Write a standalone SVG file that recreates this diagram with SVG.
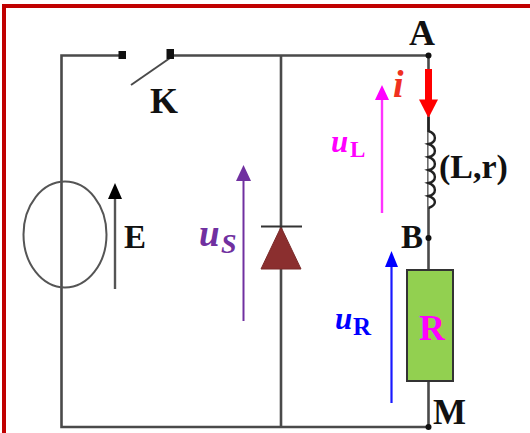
<svg xmlns="http://www.w3.org/2000/svg" width="530" height="433" viewBox="0 0 530 433">
<style>
.w{fill:none;stroke:#4a4a4a;stroke-width:2.6}
.t{font-family:"Liberation Serif",serif;font-weight:bold;fill:#111}
.u{font-family:"Liberation Serif",serif;font-weight:bold;font-style:italic}
.s{font-family:"Liberation Serif",serif;font-weight:bold}
</style>
<rect width="530" height="433" fill="#fff"/>
<path d="M4 433V6H530" fill="none" stroke="#c00000" stroke-width="4"/>
<g id="connectors">
<path class="w" d="M122 55.500H61.500V427H428.500V55.500H170"/>
<path class="w" d="M281 55.500V427"/>
<path d="M170 58L131 85" fill="none" stroke="#4a4a4a" stroke-width="2"/>
</g>
<g id="switch-K">
<rect x="118.500" y="51" width="7.500" height="8" fill="#111"/>
<rect x="166.500" y="49" width="7.500" height="10" fill="#111"/>
<text class="t" x="150" y="113" font-size="36">K</text>
</g>
<g id="source-E">
<ellipse cx="65" cy="234.500" rx="41.500" ry="53" fill="none" stroke="#555" stroke-width="2"/>
<path d="M115 289V198" stroke="#555" stroke-width="2.400"/>
<path d="M108 199L115 183L122 199Z" fill="#000"/>
<text class="t" x="124" y="248" font-size="33">E</text>
</g>
<g id="diode">
<path d="M281 227L301 269H261Z" fill="#8b2f2f" stroke="#7a2a2a"/>
<path d="M261 226.500H302" stroke="#333" stroke-width="2"/>
</g>
<g id="voltage-uS">
<path d="M243.500 321V180" stroke="#7030a0" stroke-width="2"/>
<path d="M236 181L243.500 165L251 181Z" fill="#7030a0"/>
<text class="u" x="199" y="246" font-size="37" fill="#7030a0">u</text>
<text class="u" x="221" y="253" font-size="28" fill="#7030a0">S</text>
</g>
<g id="voltage-uL">
<path d="M382 213V100" stroke="#ff33ff" stroke-width="2.400"/>
<path d="M375 100L382 85L389 100Z" fill="#ff00ff"/>
<text class="u" x="331" y="152" font-size="31" fill="#ff00ff">u</text>
<text class="s" x="350" y="157" font-size="23" fill="#ff00ff">L</text>
</g>
<g id="current-i">
<path d="M428.500 69V101" stroke="#ff0000" stroke-width="7"/>
<path d="M419 99.500H438L428.500 118Z" fill="#ff0000"/>
<text class="u" x="393" y="97" font-size="38" fill="#f03020">i</text>
</g>
<g id="inductor">
<path d="M428.500 117V131C437 134 437 142 428.500 144C437 147 437 155 428.500 157C437 160 437 168 428.500 170C437 173 437 181 428.500 183C437 186 437 194 428.500 196C437 199 437 205 428.500 208" fill="#fff" stroke="#222" stroke-width="2.400"/>
<text class="t" x="439" y="178" font-size="34">(L,r)</text>
</g>
<g id="voltage-uR">
<path d="M391.500 403V265" stroke="#1a1aff" stroke-width="2.200"/>
<path d="M385 267L391.500 251L398 267Z" fill="#0000ff"/>
<text class="u" x="335" y="329" font-size="31" fill="#0000ff">u</text>
<text class="s" x="353" y="335" font-size="25" fill="#0000ff">R</text>
</g>
<g id="resistor-R">
<rect x="407" y="270" width="46" height="111" fill="#92d050" stroke="#333" stroke-width="2"/>
<text x="419" y="340" font-size="36" class="s" fill="#ff00ff">R</text>
</g>
<g id="node-A">
<circle cx="428.500" cy="55.500" r="3" fill="#111"/>
<text class="t" x="409" y="45" font-size="36">A</text>
</g>
<g id="node-B">
<circle cx="428.500" cy="238" r="3" fill="#111"/>
<text class="t" x="401" y="248" font-size="33">B</text>
</g>
<g id="node-M">
<circle cx="428.500" cy="427" r="3" fill="#111"/>
<text class="t" x="433" y="424" font-size="35">M</text>
</g>
</svg>
